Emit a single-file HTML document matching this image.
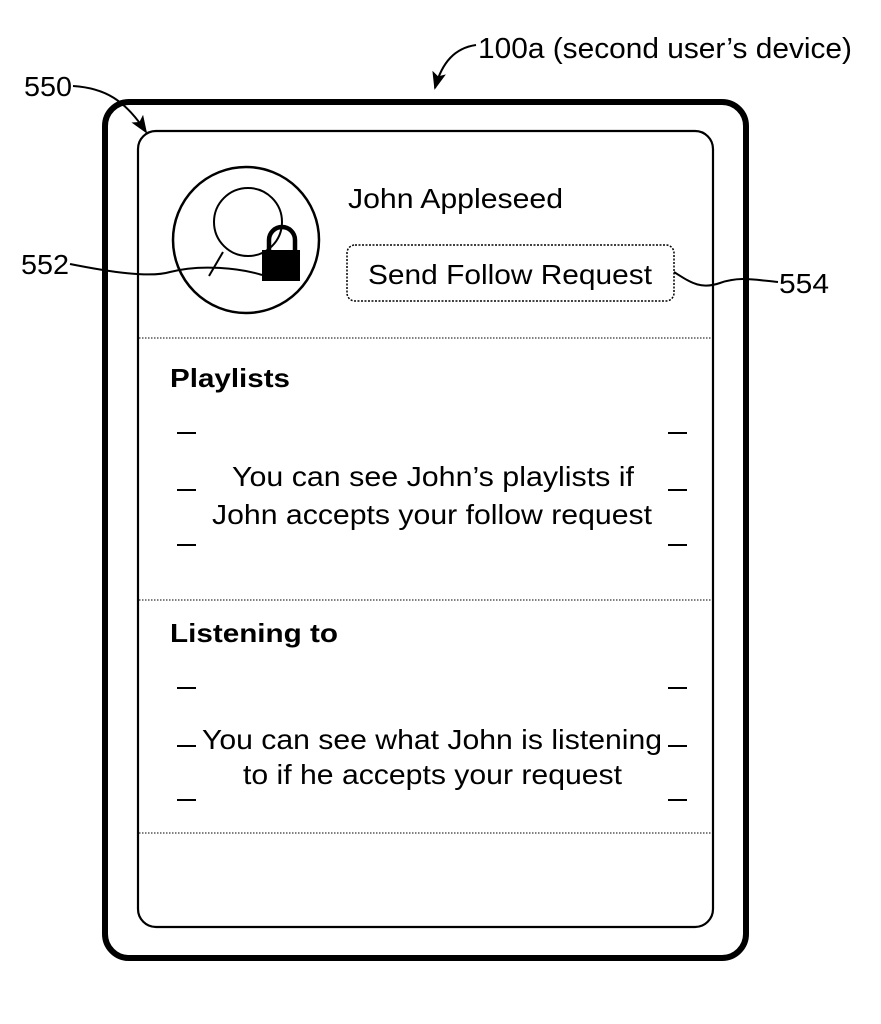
<!DOCTYPE html>
<html><head><meta charset="utf-8"><style>html,body{margin:0;padding:0;background:#fff}svg{display:block}</style></head>
<body>
<svg width="881" height="1024" viewBox="0 0 881 1024" xmlns="http://www.w3.org/2000/svg" font-family="Liberation Sans, Arial, sans-serif" fill="#000">
<defs><marker id="ah" markerWidth="18" markerHeight="14" refX="16" refY="7" orient="auto" markerUnits="userSpaceOnUse"><path d="M0,0 L18,7 L0,14 L4,7 z"/></marker></defs>
<!-- device -->
<rect x="105" y="102" width="641" height="856" rx="24" fill="none" stroke="#000" stroke-width="6"/>
<rect x="138" y="131" width="575" height="796" rx="18" fill="none" stroke="#000" stroke-width="2.2"/>
<line x1="139" y1="338" x2="712" y2="338" stroke="#000" stroke-width="1" stroke-dasharray="1.5,1.5"/>
<line x1="139" y1="600" x2="712" y2="600" stroke="#000" stroke-width="1" stroke-dasharray="1.5,1.5"/>
<line x1="139" y1="833" x2="712" y2="833" stroke="#000" stroke-width="1" stroke-dasharray="1.5,1.5"/>
<!-- labels -->
<text x="478" y="58" font-size="29" textLength="374" lengthAdjust="spacingAndGlyphs">100a (second user’s device)</text>
<path d="M476,45 C455,48 442,62 435,88" fill="none" stroke="#000" stroke-width="2" marker-end="url(#ah)"/>
<text x="24" y="96" font-size="28" textLength="48" lengthAdjust="spacingAndGlyphs">550</text>
<path d="M73,86 C105,88 125,100 146,132" fill="none" stroke="#000" stroke-width="2" marker-end="url(#ah)"/>
<text x="21" y="274" font-size="28" textLength="48" lengthAdjust="spacingAndGlyphs">552</text>
<path d="M70,264 C110,272 150,278 170,272 C200,264 240,268 262,275" fill="none" stroke="#000" stroke-width="2"/>
<text x="779" y="293" font-size="28" textLength="50" lengthAdjust="spacingAndGlyphs">554</text>
<path d="M674,272 C690,282 700,290 720,283 C740,276 755,280 778,282" fill="none" stroke="#000" stroke-width="2"/>
<!-- avatar -->
<circle cx="246" cy="240" r="73" fill="none" stroke="#000" stroke-width="2.5"/>
<circle cx="248" cy="222" r="34" fill="none" stroke="#000" stroke-width="2"/>
<path d="M209,276 L223,252" fill="none" stroke="#000" stroke-width="2"/>
<path d="M269,252 L269,240 A13,13 0 0 1 295,240 L295,252" fill="none" stroke="#000" stroke-width="4.5"/>
<rect x="262" y="250" width="38" height="31"/>
<!-- header -->
<text x="348" y="208" font-size="28" textLength="215" lengthAdjust="spacingAndGlyphs">John Appleseed</text>
<rect x="347" y="245" width="327" height="56" rx="8" fill="none" stroke="#000" stroke-width="1.5" stroke-dasharray="2,1.5"/>
<text x="368" y="284" font-size="28" textLength="284" lengthAdjust="spacingAndGlyphs">Send Follow Request</text>
<!-- playlists -->
<text x="170" y="387" font-size="26" font-weight="bold" textLength="120" lengthAdjust="spacingAndGlyphs">Playlists</text>
<g stroke="#000" stroke-width="2">
<line x1="177" y1="433" x2="196" y2="433"/><line x1="668" y1="433" x2="687" y2="433"/>
<line x1="177" y1="490" x2="196" y2="490"/><line x1="668" y1="490" x2="687" y2="490"/>
<line x1="177" y1="545" x2="196" y2="545"/><line x1="668" y1="545" x2="687" y2="545"/>
<line x1="177" y1="688" x2="196" y2="688"/><line x1="668" y1="688" x2="687" y2="688"/>
<line x1="177" y1="746" x2="196" y2="746"/><line x1="668" y1="746" x2="687" y2="746"/>
<line x1="177" y1="800" x2="196" y2="800"/><line x1="668" y1="800" x2="687" y2="800"/>
</g>
<text x="232" y="486" font-size="28" textLength="402" lengthAdjust="spacingAndGlyphs">You can see John’s playlists if</text>
<text x="212" y="524" font-size="28" textLength="440" lengthAdjust="spacingAndGlyphs">John accepts your follow request</text>
<text x="170" y="642" font-size="26" font-weight="bold" textLength="168" lengthAdjust="spacingAndGlyphs">Listening to</text>
<text x="202" y="749" font-size="28" textLength="460" lengthAdjust="spacingAndGlyphs">You can see what John is listening</text>
<text x="243" y="784" font-size="28" textLength="379" lengthAdjust="spacingAndGlyphs">to if he accepts your request</text>
</svg>
</body></html>
